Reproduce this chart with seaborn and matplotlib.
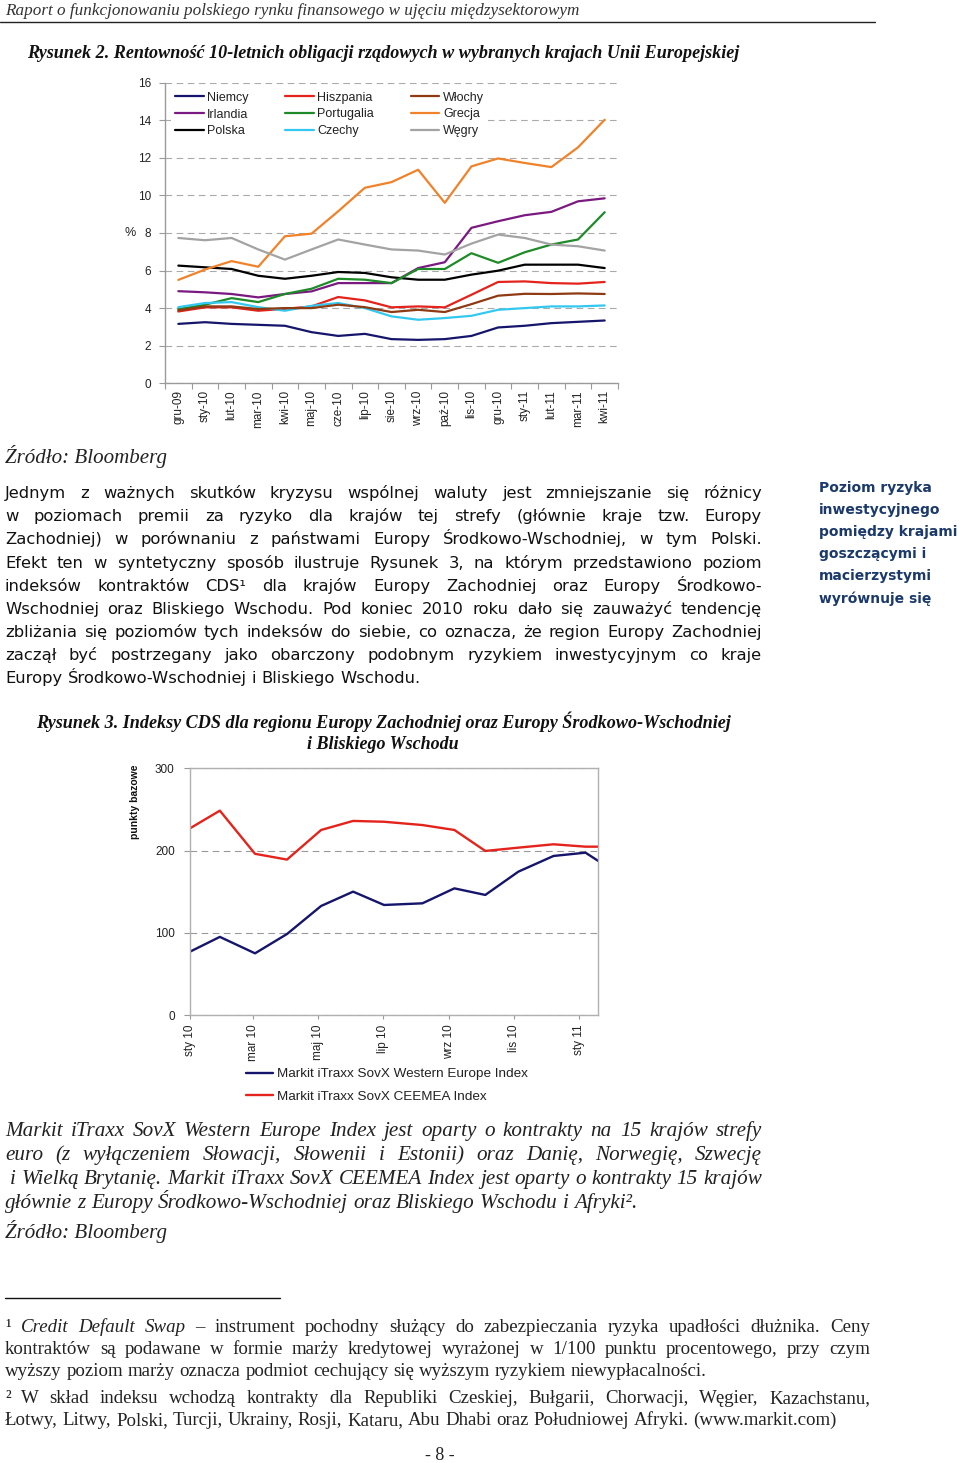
import matplotlib
matplotlib.use('Agg')
import matplotlib.pyplot as plt
import matplotlib.transforms as mtransforms
import matplotlib.dates as mdates
from matplotlib.lines import Line2D
import seaborn as sns
import pandas as pd
import numpy as np

W, H = 960, 1463

# ---------------- data: Rysunek 2 ----------------
months = ['gru-09', 'sty-10', 'lut-10', 'mar-10', 'kwi-10', 'maj-10', 'cze-10', 'lip-10',
          'sie-10', 'wrz-10', 'paź-10', 'lis-10', 'gru-10', 'sty-11', 'lut-11', 'mar-11', 'kwi-11']
niemcy = [3.16, 3.25, 3.16, 3.11, 3.06, 2.72, 2.52, 2.63, 2.35, 2.31, 2.35, 2.52, 2.97, 3.06, 3.20, 3.27, 3.34]
irlandia = [4.90, 4.84, 4.75, 4.57, 4.75, 4.89, 5.33, 5.33, 5.33, 6.13, 6.44, 8.27, 8.62, 8.94, 9.12, 9.68, 9.84]
polska = [6.26, 6.17, 6.08, 5.72, 5.56, 5.72, 5.92, 5.87, 5.64, 5.51, 5.51, 5.78, 5.99, 6.31, 6.31, 6.31, 6.13]
hiszpania = [3.82, 4.04, 4.04, 3.86, 3.96, 4.09, 4.59, 4.41, 4.04, 4.09, 4.04, 4.71, 5.39, 5.42, 5.33, 5.30, 5.39]
portugalia = [3.95, 4.18, 4.53, 4.32, 4.75, 5.03, 5.56, 5.51, 5.33, 6.08, 6.08, 6.92, 6.41, 6.97, 7.38, 7.65, 9.10]
czechy = [4.05, 4.27, 4.32, 4.05, 3.86, 4.12, 4.27, 4.00, 3.56, 3.38, 3.47, 3.59, 3.91, 4.00, 4.09, 4.09, 4.14]
wlochy = [3.88, 4.09, 4.09, 3.95, 4.00, 4.00, 4.18, 4.05, 3.79, 3.91, 3.79, 4.21, 4.66, 4.76, 4.75, 4.78, 4.75]
grecja = [5.50, 6.05, 6.50, 6.20, 7.82, 7.96, 9.15, 10.40, 10.70, 11.36, 9.60, 11.54, 11.96, 11.72, 11.50, 12.55, 14.02]
wegry = [7.73, 7.61, 7.73, 7.12, 6.58, 7.12, 7.65, 7.38, 7.12, 7.06, 6.85, 7.43, 7.91, 7.73, 7.38, 7.29, 7.06]
country_names = ['Niemcy', 'Irlandia', 'Polska', 'Hiszpania', 'Portugalia', 'Czechy', 'Włochy', 'Grecja', 'Węgry']
y_ticks1 = [0, 2, 4, 6, 8, 10, 12, 14, 16]

# ---------------- data: Rysunek 3 ----------------
cds_dates = ['2010-01-01', '2010-01-29', '2010-03-03', '2010-04-02', '2010-05-04', '2010-06-03', '2010-07-02',
             '2010-08-07', '2010-09-06', '2010-10-05', '2010-11-05', '2010-12-08', '2011-01-07', '2011-01-19']
western = [77, 95, 75, 98.5, 132.6, 150, 133.8, 135.8, 154, 146, 174.3, 193.4, 197.4, 187.3]
ceemea = [227, 248.5, 196, 189, 225, 236, 235, 231, 225, 199.5, 203.5, 207.6, 204.7, 204.7]
cds_names = ['Markit iTraxx SovX Western Europe Index', 'Markit iTraxx SovX CEEMEA Index']
cds_tick_dates = ['2010-01-01', '2010-03-01', '2010-05-01', '2010-07-01', '2010-09-01', '2010-11-01', '2011-01-01']
cds_tick_labels = ['sty 10', 'mar 10', 'maj 10', 'lip 10', 'wrz 10', 'lis 10', 'sty 11']
y_ticks2 = [0, 100, 200, 300]

# ---------------- styles ----------------
country_colors = ['#15156b', '#7a1a80', '#000000', '#e3231c', '#1e8a28', '#33c8f0', '#8e3a12', '#f0822a', '#a3a3a3']
cds_colors = ['#15156b', '#e3231c']
SANS = ['Liberation Sans', 'DejaVu Sans']
SERIF = ['Liberation Serif', 'DejaVu Serif']
BODY = ['DejaVu Sans']
AXC = '#9a9a9a'

sns.set_theme(style='white')
plt.rcParams['font.family'] = SANS
plt.rcParams['axes.unicode_minus'] = False

fig = plt.figure(figsize=(W / 100, H / 100), dpi=100)
fig.patch.set_facecolor('white')

# ================= Chart 1 =================
ax1 = fig.add_axes([165 / W, 1 - 383.3 / H, 453 / W, 300.8 / H])
series = [niemcy, irlandia, polska, hiszpania, portugalia, czechy, wlochy, grecja, wegry]
for name, vals, col in zip(country_names, series, country_colors):
    sns.lineplot(x=months, y=vals, color=col, linewidth=1.6, label=name, ax=ax1, sort=False)
ax1.set_xlim(-0.5, len(months) - 0.5)
ax1.set_ylim(0, 16)
ax1.set_yticks(y_ticks1)
ax1.set_yticklabels([str(v) for v in y_ticks1])
ax1.set_xticks(range(len(months)))
ax1.set_xticklabels(months, rotation=90)
ax1.set_xticks(np.arange(-0.5, len(months), 1), minor=True)
ax1.tick_params(axis='x', which='major', length=0, pad=5, labelsize=8.5, colors='#222222')
ax1.tick_params(axis='x', which='minor', length=4, width=0.8, color=AXC, bottom=True)
ax1.tick_params(axis='y', which='major', length=4, width=0.8, color=AXC, left=True, pad=6,
                labelsize=8.5, labelcolor='#222222')
ax1.grid(axis='y', color='#aaaaaa', linestyle=(0, (6, 4)), linewidth=0.8)
ax1.set_axisbelow(True)
for s in ['top', 'right']:
    ax1.spines[s].set_visible(False)
for s in ['left', 'bottom']:
    ax1.spines[s].set_color(AXC)
    ax1.spines[s].set_linewidth(1.0)
ax1.set_xlabel('')
ax1.set_ylabel('%', rotation=0, fontsize=9, color='#222222', va='center', ha='center')
ax1.yaxis.set_label_coords(-35 / 453, 0.5)
leg = ax1.legend(ncol=3, loc='upper left', bbox_to_anchor=(6 / 453, (383.3 - 88) / 300.8),
                 fontsize=9, handlelength=2.3, handletextpad=0.3, columnspacing=2.9,
                 labelspacing=0.38, borderpad=0.3, borderaxespad=0, frameon=True, fancybox=False)
leg.get_frame().set_facecolor('white')
leg.get_frame().set_edgecolor('none')
leg.get_frame().set_alpha(1)
for t in leg.get_texts():
    t.set_color('#222222')

# ================= Chart 2 =================
ax2 = fig.add_axes([190 / W, 1 - 1015 / H, 408.3 / W, 246.7 / H])
dts = pd.to_datetime(cds_dates)
for name, vals, col in zip(cds_names, [western, ceemea], cds_colors):
    sns.lineplot(x=dts, y=vals, color=col, linewidth=1.7, label=name, ax=ax2)
ax2.set_xlim(dts[0], dts[-1])
ax2.set_ylim(0, 300)
ax2.set_yticks(y_ticks2)
ax2.set_yticklabels([str(v) for v in y_ticks2])
ax2.set_xticks(mdates.date2num(pd.to_datetime(cds_tick_dates)))
ax2.set_xticklabels(cds_tick_labels, rotation=90)
ax2.tick_params(axis='x', length=3, width=0.8, color=AXC, bottom=True, pad=4, labelsize=8.5,
                labelcolor='#222222')
ax2.tick_params(axis='y', length=4, width=0.8, color=AXC, left=True, pad=7, labelsize=8.5,
                labelcolor='#222222')
ax2.grid(axis='y', color='#999999', linestyle=(0, (6, 4)), linewidth=0.8)
ax2.set_axisbelow(True)
for s in ['top', 'right', 'left', 'bottom']:
    ax2.spines[s].set_visible(True)
    ax2.spines[s].set_color('#b0b0b0')
    ax2.spines[s].set_linewidth(1.0)
ax2.set_xlabel('')
ax2.set_ylabel('punkty bazowe', fontsize=7.5, fontweight='bold', color='#111111')
ax2.yaxis.set_label_coords(-50 / 408.3, (1015 - 802) / 246.7)
leg2 = ax2.legend(loc='upper left', bbox_to_anchor=((246 - 190) / 408.3, -(1068 - 1015) / 246.7),
                  fontsize=9.7, handlelength=2.0, handletextpad=0.3, labelspacing=0.75,
                  borderpad=0, borderaxespad=0, frameon=False)
for t in leg2.get_texts():
    t.set_color('#222222')

# ================= Text =================
R = fig.canvas.get_renderer()
IT = mtransforms.IdentityTransform()


def wtext(x, yb, s, **kw):
    return fig.text(x, H - yb, s, transform=IT, va='baseline', **kw)


def twidth(t):
    return t.get_window_extent(renderer=R).width


def space_w(**kw):
    a = wtext(0, -100, 'n n', **kw)
    b = wtext(0, -100, 'nn', **kw)
    w = twidth(a) - twidth(b)
    a.remove(); b.remove()
    return w


def tline(segments, x0, x1, yb, justify, **base):
    words = []
    for seg in segments:
        if isinstance(seg, tuple):
            s, extra = seg
        else:
            s, extra = seg, {}
        kw = dict(base); kw.update(extra)
        for w in s.split(' '):
            if w:
                words.append((w, kw))
    items = []
    for w, kw in words:
        t = wtext(x0, yb, w, **kw)
        items.append([t, twidth(t)])
    sp = space_w(**base)
    total = sum(w for _, w in items)
    n = len(items)
    if justify and n > 1:
        gap = (x1 - x0 - total) / (n - 1)
        if gap < 0.6 * sp:
            f = (x1 - x0 - 0.6 * sp * (n - 1)) / total
            for it in items:
                it[0].set_fontsize(it[0].get_fontsize() * f)
                it[1] = twidth(it[0])
            total = sum(w for _, w in items)
            gap = (x1 - x0 - total) / (n - 1)
    else:
        gap = sp
    x = x0
    for t, w in items:
        t.set_x(x)
        x += w + gap


def fit(x, yb, s, target_w, ha='left', base=12, **kw):
    t = wtext(x, yb, s, fontsize=base, ha=ha, **kw)
    w = twidth(t)
    t.set_fontsize(base * target_w / w)
    return t


# header
fit(5, 15, 'Raport o funkcjonowaniu polskiego rynku finansowego w ujęciu międzysektorowym', 575,
    family=SERIF, style='italic', color='#333333')
fig.add_artist(Line2D([0, 875 / W], [1 - 22 / H, 1 - 22 / H], transform=fig.transFigure, color='#222222', lw=1.0))

fit(27, 58, 'Rysunek 2. Rentowność 10-letnich obligacji rządowych w wybranych krajach Unii Europejskiej', 714,
    family=SERIF, style='italic', weight='bold', color='#111111')

fit(5, 463, 'Źródło: Bloomberg', 162, family=SERIF, style='italic', color='#222222')

para = [
    'Jednym z ważnych skutków kryzysu wspólnej waluty jest zmniejszanie się różnicy',
    'w poziomach premii za ryzyko dla krajów tej strefy (głównie kraje tzw. Europy',
    'Zachodniej) w porównaniu z państwami Europy Środkowo-Wschodniej, w tym Polski.',
    'Efekt ten w syntetyczny sposób ilustruje Rysunek 3, na którym przedstawiono poziom',
    'indeksów kontraktów CDS¹ dla krajów Europy Zachodniej oraz Europy Środkowo-',
    'Wschodniej oraz Bliskiego Wschodu. Pod koniec 2010 roku dało się zauważyć tendencję',
    'zbliżania się poziomów tych indeksów do siebie, co oznacza, że region Europy Zachodniej',
    'zaczął być postrzegany jako obarczony podobnym ryzykiem inwestycyjnym co kraje',
    'Europy Środkowo-Wschodniej i Bliskiego Wschodu.',
]
para_base = [498, 521, 544, 568, 591, 614, 637, 660, 683]
for i, (ln, yb) in enumerate(zip(para, para_base)):
    tline([ln], 5, 762, yb, i < len(para) - 1, family=BODY, fontsize=11.8, color='#111111')

side = ['Poziom ryzyka', 'inwestycyjnego', 'pomiędzy krajami', 'goszczącymi i', 'macierzystymi', 'wyrównuje się']
side_base = [492, 514, 536, 558, 580, 603]
for ln, yb in zip(side, side_base):
    wtext(819, yb, ln, family=BODY, fontsize=10, weight='bold', color='#1b3a6b')

fit(383, 728, 'Rysunek 3. Indeksy CDS dla regionu Europy Zachodniej oraz Europy Środkowo-Wschodniej', 696,
    ha='center', family=SERIF, style='italic', weight='bold', color='#111111')
fit(383, 749, 'i Bliskiego Wschodu', 152, ha='center', family=SERIF, style='italic', weight='bold', color='#111111')

ital = [
    'Markit iTraxx SovX Western Europe Index jest oparty o kontrakty na 15 krajów strefy',
    'euro (z wyłączeniem Słowacji, Słowenii i Estonii) oraz Danię, Norwegię, Szwecję',
    'i Wielką Brytanię. Markit iTraxx SovX CEEMEA Index jest oparty o kontrakty 15 krajów',
    'głównie z Europy Środkowo-Wschodniej oraz Bliskiego Wschodu i Afryki².',
]
ital_base = [1136, 1160, 1184, 1208]
ital_x0 = [5, 5, 10, 5]
for i, (ln, yb, x0) in enumerate(zip(ital, ital_base, ital_x0)):
    tline([ln], x0, 762, yb, i < len(ital) - 1, family=SERIF, style='italic', fontsize=15.2, color='#222222')
fit(5, 1238, 'Źródło: Bloomberg', 162, family=SERIF, style='italic', color='#222222')

fig.add_artist(Line2D([5 / W, 280 / W], [1 - 1298 / H, 1 - 1298 / H], transform=fig.transFigure,
                      color='#111111', lw=1.0))

fn = [
    [('¹', {}), ('Credit Default Swap', {'style': 'italic'}),
     ('– instrument pochodny służący do zabezpieczania ryzyka upadłości dłużnika. Ceny', {})],
    ['kontraktów są podawane w formie marży kredytowej wyrażonej w 1/100 punktu procentowego, przy czym'],
    ['wyższy poziom marży oznacza podmiot cechujący się wyższym ryzykiem niewypłacalności.'],
    ['² W skład indeksu wchodzą kontrakty dla Republiki Czeskiej, Bułgarii, Chorwacji, Węgier, Kazachstanu,'],
    ['Łotwy, Litwy, Polski, Turcji, Ukrainy, Rosji, Kataru, Abu Dhabi oraz Południowej Afryki. (www.markit.com)'],
]
fn_base = [1332, 1354, 1376, 1403, 1425]
fn_just = [True, True, False, True, False]
for segs, yb, j in zip(fn, fn_base, fn_just):
    tline(segs, 5, 870, yb, j, family=SERIF, fontsize=13.6, color='#222222')

wtext(440, 1460, '- 8 -', family=SERIF, fontsize=13, color='#222222', ha='center')

fig.savefig('out.png', dpi=100, facecolor='white')
